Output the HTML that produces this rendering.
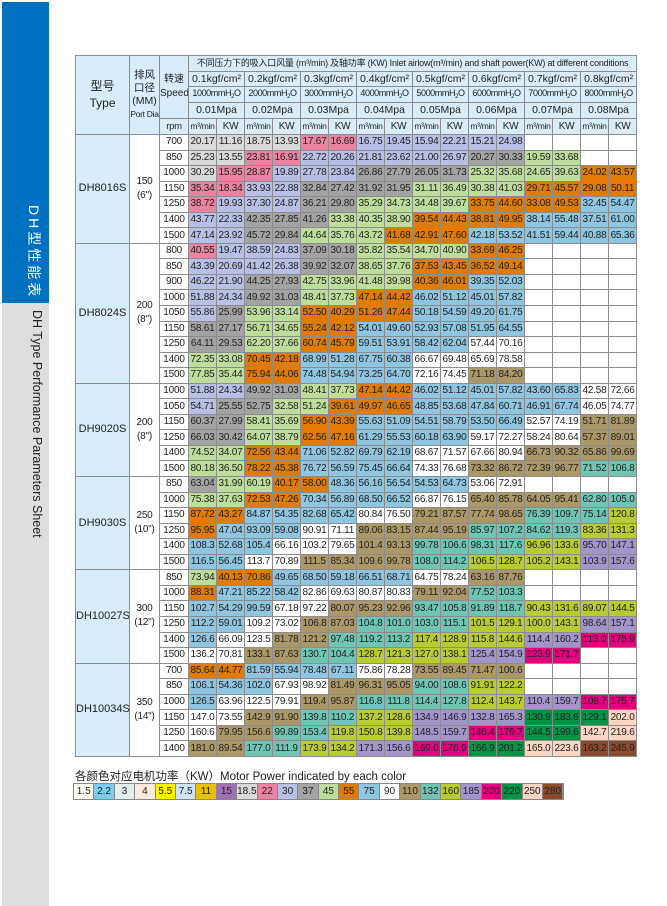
<!DOCTYPE html>
<html><head><meta charset="utf-8">
<style>
*{margin:0;padding:0;box-sizing:border-box}
body{width:667px;height:906px;background:#fff;position:relative;overflow:hidden;font-family:"Liberation Sans","Noto Sans CJK SC",sans-serif;color:#222}
#sb1{position:absolute;left:2px;top:2px;width:47px;height:301px;background:#0070c0}
#sb2{position:absolute;left:2px;top:303px;width:47px;height:603px;background:#dedede}
#t1{position:absolute;left:44px;top:205px;transform-origin:0 0;transform:rotate(90deg);color:#fff;font-size:14px;letter-spacing:3px;white-space:nowrap}
#t2{position:absolute;left:44px;top:310px;transform-origin:0 0;transform:rotate(90deg);color:#222;font-size:12.5px;white-space:nowrap}
table{position:absolute;left:75px;top:55px;border-collapse:collapse;table-layout:fixed;width:562px}
td,th{border:1px solid #8c8c8c;text-align:center;font-size:10px;letter-spacing:-0.2px;padding:0;white-space:nowrap;overflow:hidden;font-weight:normal;line-height:1}
th{background:#d8edf9;font-size:10.5px;letter-spacing:0}
.hd td{height:15.55px}
.ty{background:#d8edf9;font-size:11px;letter-spacing:0}
.un th{font-size:8.5px;letter-spacing:-0.3px}
.mm th{font-size:9px;letter-spacing:-0.4px}
sub{font-size:6px;vertical-align:-2px}
.a{background:#fffdf0}.b{background:#7ecbf0}.c{background:#dff0ea}.d{background:#fde9dc}.e{background:#fff200}.f{background:#cfe2f6}.g{background:#e8c000}.h{background:#a070b0}.i{background:#d9d9d9}.j{background:#ec82a2}.k{background:#b8bfe6}.l{background:#a3a3a3}.m{background:#bedd9a}.n{background:#e07b00}.o{background:#8ec5e0}.p{background:#fff}.q{background:#ab9866}.r{background:#6ec6b2}.s{background:#b6cc30}.t{background:#a394cc}.u{background:#e4007f}.v{background:#009245}.w{background:#fbd5c2}.x{background:#8b4a2b}
#lt{position:absolute;left:75px;top:768px;font-size:11.5px;color:#222}
#lg{position:absolute;left:73px;top:783px;display:flex;border:1px solid #888}
#lg div{width:20.4px;height:15px;border-right:1px solid #888;font-size:10px;text-align:center;line-height:15px}
</style></head><body>
<div id="sb1"></div><div id="sb2"></div>
<div id="t1">DH型性能表</div>
<div id="t2">DH Type Performance Parameters Sheet</div>
<table>
<colgroup><col style="width:54px"><col style="width:30px"><col style="width:29px"><col span="16" style="width:28px"></colgroup>
<tr style="height:16px"><th rowspan="5" style="font-size:12px;line-height:1.4">型号<br>Type</th><th rowspan="5" style="line-height:1.25;font-size:10.5px">排风<br>口径<br>(MM)<br><span style="font-size:8.5px;letter-spacing:-0.3px">Port Dia</span></th><th rowspan="4" style="line-height:1.4;font-size:10px">转速<br>Speed</th><th colspan="16" style="font-size:9px;letter-spacing:-0.2px">不同压力下的吸入口风量 (m³/min) 及轴功率 (KW) Inlet airlow(m³/min) and shaft power(KW) at different conditions</th></tr>
<tr style="height:15px"><th colspan="2">0.1kgf/cm²</th><th colspan="2">0.2kgf/cm²</th><th colspan="2">0.3kgf/cm²</th><th colspan="2">0.4kgf/cm²</th><th colspan="2">0.5kgf/cm²</th><th colspan="2">0.6kgf/cm²</th><th colspan="2">0.7kgf/cm²</th><th colspan="2">0.8kgf/cm²</th></tr>
<tr style="height:16px" class="mm"><th colspan="2">1000mmH<sub>2</sub>O</th><th colspan="2">2000mmH<sub>2</sub>O</th><th colspan="2">3000mmH<sub>2</sub>O</th><th colspan="2">4000mmH<sub>2</sub>O</th><th colspan="2">5000mmH<sub>2</sub>O</th><th colspan="2">6000mmH<sub>2</sub>O</th><th colspan="2">7000mmH<sub>2</sub>O</th><th colspan="2">8000mmH<sub>2</sub>O</th></tr>
<tr style="height:16px"><th colspan="2">0.01Mpa</th><th colspan="2">0.02Mpa</th><th colspan="2">0.03Mpa</th><th colspan="2">0.04Mpa</th><th colspan="2">0.05Mpa</th><th colspan="2">0.06Mpa</th><th colspan="2">0.07Mpa</th><th colspan="2">0.08Mpa</th></tr>
<tr style="height:16px" class="un"><th style="font-size:9.5px">rpm</th><th>m³/min</th><th style="font-size:10px">KW</th><th>m³/min</th><th style="font-size:10px">KW</th><th>m³/min</th><th style="font-size:10px">KW</th><th>m³/min</th><th style="font-size:10px">KW</th><th>m³/min</th><th style="font-size:10px">KW</th><th>m³/min</th><th style="font-size:10px">KW</th><th>m³/min</th><th style="font-size:10px">KW</th><th>m³/min</th><th style="font-size:10px">KW</th></tr>
<tbody class="hd">
<tr><td rowspan="7" class="ty">DH8016S</td><td rowspan="7" style="line-height:1.4">150<br>(6")</td><td>700</td><td class="i">20.17</td><td class="i">11.16</td><td class="i">18.75</td><td class="i">13.93</td><td class="j">17.67</td><td class="j">16.69</td><td class="k">16.75</td><td class="k">19.45</td><td class="k">15.94</td><td class="k">22.21</td><td class="k">15.21</td><td class="k">24.98</td><td></td><td></td><td></td><td></td></tr>
<tr><td>850</td><td class="i">25.23</td><td class="i">13.55</td><td class="j">23.81</td><td class="j">16.91</td><td class="k">22.72</td><td class="k">20.26</td><td class="k">21.81</td><td class="k">23.62</td><td class="k">21.00</td><td class="k">26.97</td><td class="l">20.27</td><td class="l">30.33</td><td class="m">19.59</td><td class="m">33.68</td><td></td><td></td></tr>
<tr><td>1000</td><td class="i">30.29</td><td class="j">15.95</td><td class="j">28.87</td><td class="k">19.89</td><td class="k">27.78</td><td class="k">23.84</td><td class="l">26.86</td><td class="l">27.79</td><td class="l">26.05</td><td class="l">31.73</td><td class="m">25.32</td><td class="m">35.68</td><td class="m">24.65</td><td class="m">39.63</td><td class="n">24.02</td><td class="n">43.57</td></tr>
<tr><td>1150</td><td class="j">35.34</td><td class="j">18.34</td><td class="k">33.93</td><td class="k">22.88</td><td class="l">32.84</td><td class="l">27.42</td><td class="l">31.92</td><td class="l">31.95</td><td class="m">31.11</td><td class="m">36.49</td><td class="m">30.38</td><td class="m">41.03</td><td class="n">29.71</td><td class="n">45.57</td><td class="n">29.08</td><td class="n">50.11</td></tr>
<tr><td>1250</td><td class="j">38.72</td><td class="k">19.93</td><td class="k">37.30</td><td class="k">24.87</td><td class="l">36.21</td><td class="l">29.80</td><td class="m">35.29</td><td class="m">34.73</td><td class="m">34.48</td><td class="m">39.67</td><td class="n">33.75</td><td class="n">44.60</td><td class="n">33.08</td><td class="n">49.53</td><td class="o">32.45</td><td class="o">54.47</td></tr>
<tr><td>1400</td><td class="k">43.77</td><td class="k">22.33</td><td class="l">42.35</td><td class="l">27.85</td><td class="l">41.26</td><td class="m">33.38</td><td class="m">40.35</td><td class="m">38.90</td><td class="n">39.54</td><td class="n">44.43</td><td class="n">38.81</td><td class="n">49.95</td><td class="o">38.14</td><td class="o">55.48</td><td class="o">37.51</td><td class="o">61.00</td></tr>
<tr><td>1500</td><td class="k">47.14</td><td class="k">23.92</td><td class="l">45.72</td><td class="l">29.84</td><td class="m">44.64</td><td class="m">35.76</td><td class="m">43.72</td><td class="n">41.68</td><td class="n">42.91</td><td class="n">47.60</td><td class="o">42.18</td><td class="o">53.52</td><td class="o">41.51</td><td class="o">59.44</td><td class="o">40.88</td><td class="o">65.36</td></tr>

<tr><td rowspan="9" class="ty">DH8024S</td><td rowspan="9" style="line-height:1.4">200<br>(8")</td><td>800</td><td class="j">40.55</td><td class="k">19.47</td><td class="k">38.59</td><td class="k">24.83</td><td class="l">37.09</td><td class="l">30.18</td><td class="m">35.82</td><td class="m">35.54</td><td class="m">34.70</td><td class="m">40.90</td><td class="n">33.69</td><td class="n">46.25</td><td></td><td></td><td></td><td></td></tr>
<tr><td>850</td><td class="k">43.39</td><td class="k">20.69</td><td class="k">41.42</td><td class="k">26.38</td><td class="l">39.92</td><td class="l">32.07</td><td class="m">38.65</td><td class="m">37.76</td><td class="n">37.53</td><td class="n">43.45</td><td class="n">36.52</td><td class="n">49.14</td><td></td><td></td><td></td><td></td></tr>
<tr><td>900</td><td class="k">46.22</td><td class="k">21.90</td><td class="l">44.25</td><td class="l">27.93</td><td class="m">42.75</td><td class="m">33.96</td><td class="m">41.48</td><td class="m">39.98</td><td class="n">40.36</td><td class="n">46.01</td><td class="o">39.35</td><td class="o">52.03</td><td></td><td></td><td></td><td></td></tr>
<tr><td>1000</td><td class="k">51.88</td><td class="k">24.34</td><td class="l">49.92</td><td class="l">31.03</td><td class="m">48.41</td><td class="m">37.73</td><td class="n">47.14</td><td class="n">44.42</td><td class="o">46.02</td><td class="o">51.12</td><td class="o">45.01</td><td class="o">57.82</td><td></td><td></td><td></td><td></td></tr>
<tr><td>1050</td><td class="k">55.86</td><td class="l">25.99</td><td class="m">53.96</td><td class="m">33.14</td><td class="n">52.50</td><td class="n">40.29</td><td class="n">51.26</td><td class="n">47.44</td><td class="o">50.18</td><td class="o">54.59</td><td class="o">49.20</td><td class="o">61.75</td><td></td><td></td><td></td><td></td></tr>
<tr><td>1150</td><td class="l">58.61</td><td class="l">27.17</td><td class="m">56.71</td><td class="m">34.65</td><td class="n">55.24</td><td class="n">42.12</td><td class="o">54.01</td><td class="o">49.60</td><td class="o">52.93</td><td class="o">57.08</td><td class="o">51.95</td><td class="o">64.55</td><td></td><td></td><td></td><td></td></tr>
<tr><td>1250</td><td class="l">64.11</td><td class="l">29.53</td><td class="m">62.20</td><td class="m">37.66</td><td class="n">60.74</td><td class="n">45.79</td><td class="o">59.51</td><td class="o">53.91</td><td class="o">58.42</td><td class="o">62.04</td><td class="p">57.44</td><td class="p">70.16</td><td></td><td></td><td></td><td></td></tr>
<tr><td>1400</td><td class="m">72.35</td><td class="m">33.08</td><td class="n">70.45</td><td class="n">42.18</td><td class="o">68.99</td><td class="o">51.28</td><td class="o">67.75</td><td class="o">60.38</td><td class="p">66.67</td><td class="p">69.48</td><td class="p">65.69</td><td class="p">78.58</td><td></td><td></td><td></td><td></td></tr>
<tr><td>1500</td><td class="m">77.85</td><td class="m">35.44</td><td class="n">75.94</td><td class="n">44.06</td><td class="o">74.48</td><td class="o">54.94</td><td class="o">73.25</td><td class="o">64.70</td><td class="p">72.16</td><td class="p">74.45</td><td class="q">71.18</td><td class="q">84.20</td><td></td><td></td><td></td><td></td></tr>

<tr><td rowspan="6" class="ty">DH9020S</td><td rowspan="6" style="line-height:1.4">200<br>(8")</td><td>1000</td><td class="k">51.88</td><td class="k">24.34</td><td class="l">49.92</td><td class="l">31.03</td><td class="m">48.41</td><td class="m">37.73</td><td class="n">47.14</td><td class="n">44.42</td><td class="o">46.02</td><td class="o">51.12</td><td class="o">45.01</td><td class="o">57.82</td><td class="o">43.60</td><td class="o">65.83</td><td class="p">42.58</td><td class="p">72.66</td></tr>
<tr><td>1050</td><td class="k">54.71</td><td class="l">25.55</td><td class="l">52.75</td><td class="m">32.58</td><td class="m">51.24</td><td class="n">39.61</td><td class="n">49.97</td><td class="n">46.65</td><td class="o">48.85</td><td class="o">53.68</td><td class="o">47.84</td><td class="o">60.71</td><td class="o">46.91</td><td class="o">67.74</td><td class="p">46.05</td><td class="p">74.77</td></tr>
<tr><td>1150</td><td class="l">60.37</td><td class="l">27.99</td><td class="m">58.41</td><td class="m">35.69</td><td class="n">56.90</td><td class="n">43.39</td><td class="o">55.63</td><td class="o">51.09</td><td class="o">54.51</td><td class="o">58.79</td><td class="o">53.50</td><td class="o">66.49</td><td class="p">52.57</td><td class="p">74.19</td><td class="q">51.71</td><td class="q">81.89</td></tr>
<tr><td>1250</td><td class="l">66.03</td><td class="l">30.42</td><td class="m">64.07</td><td class="m">38.79</td><td class="n">62.56</td><td class="n">47.16</td><td class="o">61.29</td><td class="o">55.53</td><td class="o">60.18</td><td class="o">63.90</td><td class="p">59.17</td><td class="p">72.27</td><td class="p">58.24</td><td class="p">80.64</td><td class="q">57.37</td><td class="q">89.01</td></tr>
<tr><td>1400</td><td class="m">74.52</td><td class="m">34.07</td><td class="n">72.56</td><td class="n">43.44</td><td class="o">71.06</td><td class="o">52.82</td><td class="o">69.79</td><td class="o">62.19</td><td class="p">68.67</td><td class="p">71.57</td><td class="p">67.66</td><td class="p">80.94</td><td class="q">66.73</td><td class="q">90.32</td><td class="q">65.86</td><td class="q">99.69</td></tr>
<tr><td>1500</td><td class="m">80.18</td><td class="m">36.50</td><td class="n">78.22</td><td class="n">45.38</td><td class="o">76.72</td><td class="o">56.59</td><td class="o">75.45</td><td class="o">66.64</td><td class="p">74.33</td><td class="p">76.68</td><td class="q">73.32</td><td class="q">86.72</td><td class="q">72.39</td><td class="q">96.77</td><td class="r">71.52</td><td class="r">106.8</td></tr>

<tr><td rowspan="6" class="ty">DH9030S</td><td rowspan="6" style="line-height:1.4">250<br>(10")</td><td>850</td><td class="l">63.04</td><td class="m">31.99</td><td class="m">60.19</td><td class="n">40.17</td><td class="n">58.00</td><td class="o">48.36</td><td class="o">56.16</td><td class="o">56.54</td><td class="o">54.53</td><td class="o">64.73</td><td class="p">53.06</td><td class="p">72.91</td><td></td><td></td><td></td><td></td></tr>
<tr><td>1000</td><td class="m">75.38</td><td class="m">37.63</td><td class="n">72.53</td><td class="n">47.26</td><td class="o">70.34</td><td class="o">56.89</td><td class="o">68.50</td><td class="o">66.52</td><td class="p">66.87</td><td class="p">76.15</td><td class="q">65.40</td><td class="q">85.78</td><td class="q">64.05</td><td class="q">95.41</td><td class="r">62.80</td><td class="r">105.0</td></tr>
<tr><td>1150</td><td class="n">87.72</td><td class="n">43.27</td><td class="o">84.87</td><td class="o">54.35</td><td class="o">82.68</td><td class="o">65.42</td><td class="p">80.84</td><td class="p">76.50</td><td class="q">79.21</td><td class="q">87.57</td><td class="q">77.74</td><td class="q">98.65</td><td class="r">76.39</td><td class="r">109.7</td><td class="r">75.14</td><td class="s">120.8</td></tr>
<tr><td>1250</td><td class="n">95.95</td><td class="o">47.04</td><td class="o">93.09</td><td class="o">59.08</td><td class="p">90.91</td><td class="p">71.11</td><td class="q">89.06</td><td class="q">83.15</td><td class="q">87.44</td><td class="q">95.19</td><td class="r">85.97</td><td class="r">107.2</td><td class="r">84.62</td><td class="r">119.3</td><td class="s">83.36</td><td class="s">131.3</td></tr>
<tr><td>1400</td><td class="o">108.3</td><td class="o">52.68</td><td class="o">105.4</td><td class="p">66.16</td><td class="p">103.2</td><td class="p">79.65</td><td class="q">101.4</td><td class="q">93.13</td><td class="r">99.78</td><td class="r">106.6</td><td class="r">98.31</td><td class="r">117.6</td><td class="s">96.96</td><td class="s">133.6</td><td class="t">95.70</td><td class="t">147.1</td></tr>
<tr><td>1500</td><td class="o">116.5</td><td class="o">56.45</td><td class="p">113.7</td><td class="p">70.89</td><td class="q">111.5</td><td class="q">85.34</td><td class="q">109.6</td><td class="q">99.78</td><td class="r">108.0</td><td class="r">114.2</td><td class="s">106.5</td><td class="s">128.7</td><td class="s">105.2</td><td class="s">143.1</td><td class="t">103.9</td><td class="t">157.6</td></tr>

<tr><td rowspan="6" class="ty">DH10027S</td><td rowspan="6" style="line-height:1.4">300<br>(12")</td><td>850</td><td class="m">73.94</td><td class="n">40.13</td><td class="n">70.86</td><td class="o">49.65</td><td class="o">68.50</td><td class="o">59.18</td><td class="o">66.51</td><td class="o">68.71</td><td class="p">64.75</td><td class="p">78.24</td><td class="q">63.16</td><td class="q">87.76</td><td></td><td></td><td></td><td></td></tr>
<tr><td>1000</td><td class="n">88.31</td><td class="o">47.21</td><td class="o">85.22</td><td class="o">58.42</td><td class="p">82.86</td><td class="p">69.63</td><td class="p">80.87</td><td class="p">80.83</td><td class="q">79.11</td><td class="q">92.04</td><td class="r">77.52</td><td class="r">103.3</td><td></td><td></td><td></td><td></td></tr>
<tr><td>1150</td><td class="o">102.7</td><td class="o">54.29</td><td class="o">99.59</td><td class="p">67.18</td><td class="p">97.22</td><td class="q">80.07</td><td class="q">95.23</td><td class="q">92.96</td><td class="r">93.47</td><td class="r">105.8</td><td class="r">91.89</td><td class="r">118.7</td><td class="s">90.43</td><td class="s">131.6</td><td class="s">89.07</td><td class="s">144.5</td></tr>
<tr><td>1250</td><td class="o">112.2</td><td class="o">59.01</td><td class="p">109.2</td><td class="p">73.02</td><td class="q">106.8</td><td class="q">87.03</td><td class="r">104.8</td><td class="r">101.0</td><td class="r">103.0</td><td class="r">115.1</td><td class="s">101.5</td><td class="s">129.1</td><td class="s">100.0</td><td class="s">143.1</td><td class="t">98.64</td><td class="t">157.1</td></tr>
<tr><td>1400</td><td class="o">126.6</td><td class="p">66.09</td><td class="p">123.5</td><td class="q">81.78</td><td class="q">121.2</td><td class="r">97.48</td><td class="r">119.2</td><td class="r">113.2</td><td class="s">117.4</td><td class="s">128.9</td><td class="s">115.8</td><td class="s">144.6</td><td class="t">114.4</td><td class="t">160.2</td><td class="u">113.0</td><td class="u">175.9</td></tr>
<tr><td>1500</td><td class="p">136.2</td><td class="p">70.81</td><td class="q">133.1</td><td class="q">87.63</td><td class="r">130.7</td><td class="r">104.4</td><td class="s">128.7</td><td class="s">121.3</td><td class="s">127.0</td><td class="s">138.1</td><td class="t">125.4</td><td class="t">154.9</td><td class="u">123.9</td><td class="u">171.7</td><td></td><td></td></tr>

<tr><td rowspan="6" class="ty">DH10034S</td><td rowspan="6" style="line-height:1.4">350<br>(14")</td><td>700</td><td class="n">85.64</td><td class="n">44.77</td><td class="o">81.59</td><td class="o">55.94</td><td class="o">78.48</td><td class="o">67.11</td><td class="p">75.86</td><td class="p">78.28</td><td class="q">73.55</td><td class="q">89.45</td><td class="q">71.47</td><td class="q">100.6</td><td></td><td></td><td></td><td></td></tr>
<tr><td>850</td><td class="o">106.1</td><td class="o">54.36</td><td class="o">102.0</td><td class="p">67.93</td><td class="p">98.92</td><td class="q">81.49</td><td class="q">96.31</td><td class="q">95.05</td><td class="r">94.00</td><td class="r">108.6</td><td class="s">91.91</td><td class="s">122.2</td><td></td><td></td><td></td><td></td></tr>
<tr><td>1000</td><td class="o">126.5</td><td class="p">63.96</td><td class="p">122.5</td><td class="p">79.91</td><td class="q">119.4</td><td class="q">95.87</td><td class="r">116.8</td><td class="r">111.8</td><td class="r">114.4</td><td class="r">127.8</td><td class="s">112.4</td><td class="s">143.7</td><td class="t">110.4</td><td class="t">159.7</td><td class="u">108.7</td><td class="u">175.7</td></tr>
<tr><td>1150</td><td class="p">147.0</td><td class="p">73.55</td><td class="q">142.9</td><td class="q">91.90</td><td class="r">139.8</td><td class="r">110.2</td><td class="s">137.2</td><td class="s">128.6</td><td class="t">134.9</td><td class="t">146.9</td><td class="t">132.8</td><td class="t">165.3</td><td class="v">130.9</td><td class="v">183.6</td><td class="v">129.1</td><td class="w">202.0</td></tr>
<tr><td>1250</td><td class="p">160.6</td><td class="q">79.95</td><td class="q">156.6</td><td class="r">99.89</td><td class="r">153.4</td><td class="s">119.8</td><td class="s">150.8</td><td class="s">139.8</td><td class="t">148.5</td><td class="t">159.7</td><td class="u">146.4</td><td class="u">179.7</td><td class="v">144.5</td><td class="v">199.6</td><td class="w">142.7</td><td class="w">219.6</td></tr>
<tr><td>1400</td><td class="q">181.0</td><td class="q">89.54</td><td class="r">177.0</td><td class="r">111.9</td><td class="s">173.9</td><td class="s">134.2</td><td class="t">171.3</td><td class="t">156.6</td><td class="u">169.0</td><td class="u">178.9</td><td class="v">166.9</td><td class="v">201.2</td><td class="w">165.0</td><td class="w">223.6</td><td class="x">163.2</td><td class="x">245.9</td></tr>
</tbody>
</table>
<div id="lt">各颜色对应电机功率（KW）Motor Power indicated by each color</div>
<div id="lg"><div class="a">1.5</div><div class="b">2.2</div><div class="c">3</div><div class="d">4</div><div class="e">5.5</div><div class="f">7.5</div><div class="g">11</div><div class="h">15</div><div class="i">18.5</div><div class="j">22</div><div class="k">30</div><div class="l">37</div><div class="m">45</div><div class="n">55</div><div class="o">75</div><div class="p">90</div><div class="q">110</div><div class="r">132</div><div class="s">160</div><div class="t">185</div><div class="u">200</div><div class="v">220</div><div class="w">250</div><div class="x">280</div></div>
</body></html>
